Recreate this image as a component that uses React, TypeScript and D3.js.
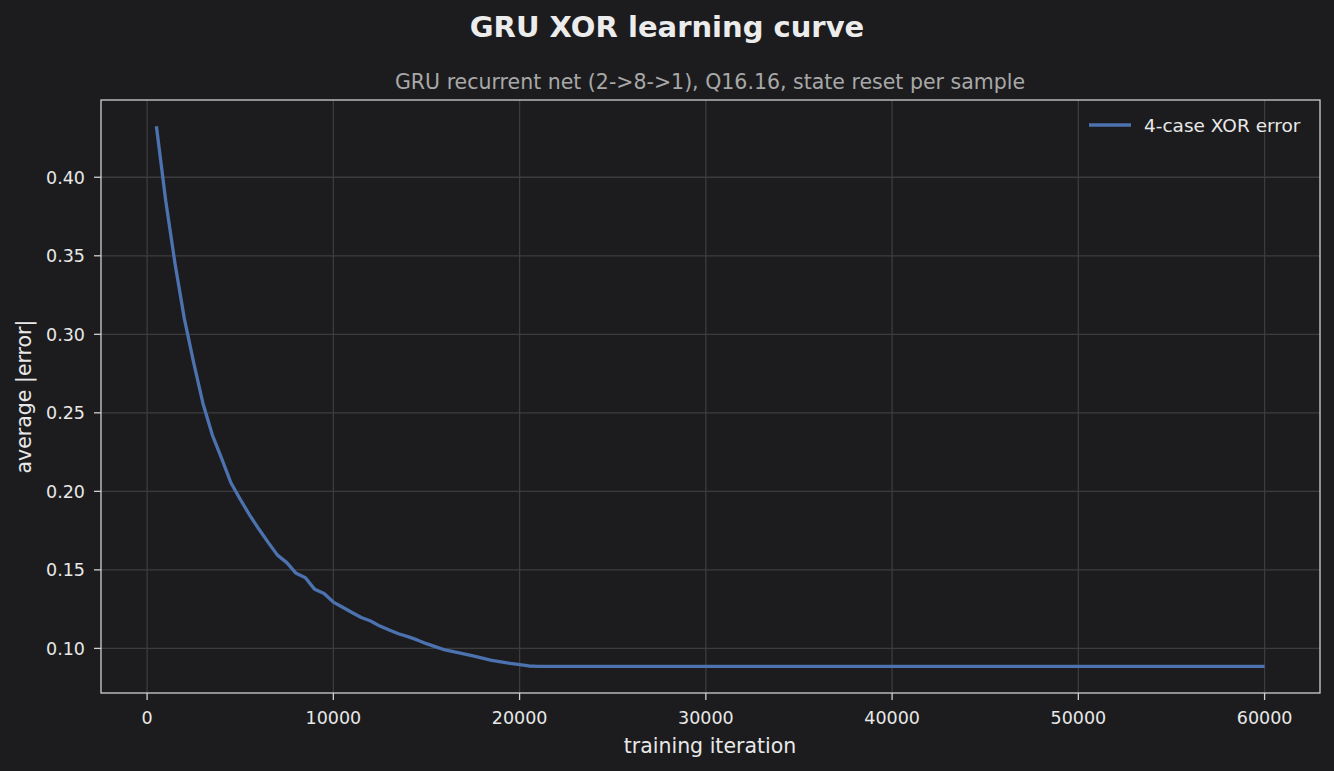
import * as d3 from "d3";

const iterations = [
  500, 1000, 1500, 2000, 2500, 3000, 3500, 4000, 4500, 5000, 5500, 6000, 6500,
  7000, 7500, 8000, 8500, 9000, 9500, 10000, 10500, 11000, 11500, 12000, 12500,
  13000, 13500, 14000, 14500, 15000, 15500, 16000, 16500, 17000, 17500, 18000,
  18500, 19000, 19500, 20000, 20500, 21000, 25000, 30000, 35000, 40000, 45000,
  50000, 55000, 60000,
];

const avgError = [
  0.4325, 0.385, 0.345, 0.31, 0.282, 0.256, 0.236, 0.221, 0.2055, 0.195, 0.185,
  0.176, 0.1675, 0.1594, 0.1546, 0.1478, 0.145, 0.1376, 0.135, 0.1295, 0.1262,
  0.1229, 0.1197, 0.1174, 0.1142, 0.1117, 0.1093, 0.1075, 0.1054, 0.103, 0.101,
  0.099, 0.0978, 0.0965, 0.0952, 0.0938, 0.0924, 0.0914, 0.0904, 0.0896, 0.0888,
  0.0886, 0.0886, 0.0886, 0.0886, 0.0886, 0.0886, 0.0886, 0.0886, 0.0886,
];

const xTicks = [0, 10000, 20000, 30000, 40000, 50000, 60000];
const yTicks = [0.1, 0.15, 0.2, 0.25, 0.3, 0.35, 0.4];

const W = 1334;
const H = 771;
const left = 101;
const right = 1320;
const top = 100;
const bottom = 693;

const font = "DejaVu Sans, sans-serif";

const App = () => {
  const x = d3.scaleLinear().domain([-2475, 62975]).range([left, right]);
  const y = d3.scaleLinear().domain([0.0716, 0.4492]).range([bottom, top]);

  const pts = iterations.map((it, i) => [it, avgError[i]] as [number, number]);
  const line = d3
    .line<[number, number]>()
    .x((d) => x(d[0]))
    .y((d) => y(d[1]));

  return (
    <svg
      width={W}
      height={H}
      style={{ position: "absolute", left: 0, top: 0, background: "#1c1c1e" }}
      fontFamily={font}
    >
      <rect width={W} height={H} fill="#1c1c1e" />
      <text x={667} y={37} textAnchor="middle" fill="#ececec" fontSize={29} fontWeight="bold">
        GRU XOR learning curve
      </text>
      <text x={710} y={89} textAnchor="middle" fill="#a8a8a8" fontSize={20.5}>
        GRU recurrent net (2-&gt;8-&gt;1), Q16.16, state reset per sample
      </text>

      {/* grid */}
      <g stroke="#3c3c3e" strokeWidth={1.3}>
        {xTicks.map((t) => (
          <line key={"gx" + t} x1={x(t)} x2={x(t)} y1={top} y2={bottom} />
        ))}
        {yTicks.map((t) => (
          <line key={"gy" + t} x1={left} x2={right} y1={y(t)} y2={y(t)} />
        ))}
      </g>

      <path d={line(pts) ?? ""} fill="none" stroke="#4c72b0" strokeWidth={3.3} strokeLinejoin="round" />

      <rect
        x={left}
        y={top}
        width={right - left}
        height={bottom - top}
        fill="none"
        stroke="#cfcfcf"
        strokeWidth={1.3}
      />

      {/* x axis */}
      <g fill="#e8e8e8" fontSize={17.5} textAnchor="middle">
        {xTicks.map((t) => (
          <g key={"xt" + t}>
            <line x1={x(t)} x2={x(t)} y1={bottom} y2={bottom + 7} stroke="#cfcfcf" strokeWidth={1.3} />
            <text x={x(t)} y={bottom + 31}>
              {t}
            </text>
          </g>
        ))}
      </g>
      {/* y axis */}
      <g fill="#e8e8e8" fontSize={17.5} textAnchor="end">
        {yTicks.map((t) => (
          <g key={"yt" + t}>
            <line x1={left - 7} x2={left} y1={y(t)} y2={y(t)} stroke="#cfcfcf" strokeWidth={1.3} />
            <text x={left - 16} y={y(t) + 6.5}>
              {d3.format(".2f")(t)}
            </text>
          </g>
        ))}
      </g>

      <text x={710} y={753} textAnchor="middle" fill="#e8e8e8" fontSize={20.5}>
        training iteration
      </text>
      <text
        transform={`translate(31, ${(top + bottom) / 2}) rotate(-90)`}
        textAnchor="middle"
        fill="#e8e8e8"
        fontSize={20.5}
      >
        average |error|
      </text>

      {/* legend */}
      <line x1={1089} x2={1131} y1={125} y2={125} stroke="#4c72b0" strokeWidth={3.3} />
      <text x={1144} y={132} fill="#e8e8e8" fontSize={18.5}>
        4-case XOR error
      </text>
    </svg>
  );
};

export default App;
